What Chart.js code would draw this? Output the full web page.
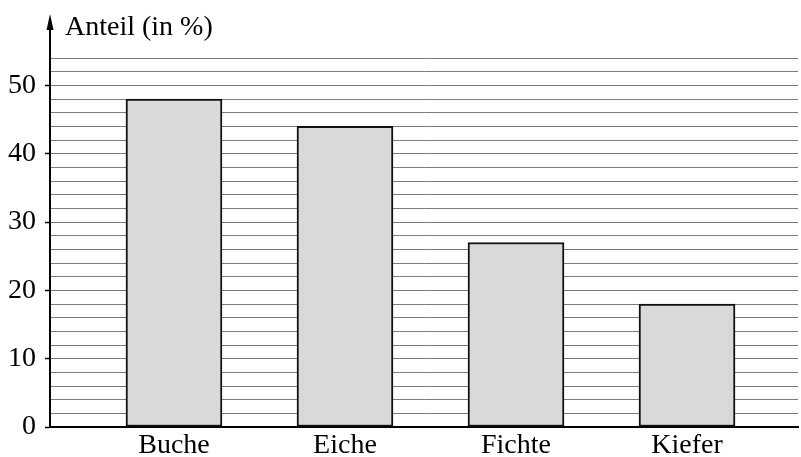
<!DOCTYPE html>
<html>
<head>
<meta charset="utf-8">
<script src="https://cdn.jsdelivr.net/npm/chart.js@4/dist/chart.umd.min.js"></script>
<style>
    html, body { margin: 0; padding: 0; background: #fff; }
    #wrap { width: 801px; height: 457px; }
</style>
</head>
<body>
<div id="wrap"><canvas id="anteilChart"></canvas></div>
<script>
// Chart data
const categories = ['Buche', 'Eiche', 'Fichte', 'Kiefer'];
const anteil = [48, 44, 27, 18];
const labelledTicks = [0, 10, 20, 30, 40, 50];
const yMax = 54;

const serif = '"Liberation Serif", "Times New Roman", serif';

// Arrow on the y axis and the axis title
const axisArrow = {
    id: 'axisArrow',
    afterDraw(chart) {
        const ctx = chart.ctx;
        const area = chart.chartArea;
        const x = area.left;
        ctx.save();
        ctx.strokeStyle = '#000';
        ctx.lineWidth = 2;
        ctx.beginPath();
        ctx.moveTo(x, area.top);
        ctx.lineTo(x, 26);
        ctx.stroke();
        ctx.fillStyle = '#000';
        ctx.beginPath();
        ctx.moveTo(x, 14);
        ctx.lineTo(x - 3.5, 30);
        ctx.lineTo(x + 3.5, 30);
        ctx.closePath();
        ctx.fill();
        ctx.font = '28px ' + serif;
        ctx.textBaseline = 'alphabetic';
        ctx.fillText('Anteil (in %)', 65, 35);
        ctx.restore();
    }
};

function init() {
    const ctx = document.getElementById('anteilChart');
    new Chart(ctx, {
        type: 'bar',
        data: {
            datasets: [{
                data: anteil.map((v, i) => ({ x: i + 1, y: v })),
                backgroundColor: '#d9d9d9',
                borderColor: '#111',
                borderWidth: 2,
                borderSkipped: false,
                barThickness: 96
            }]
        },
        options: {
            responsive: true,
            maintainAspectRatio: false,
            animation: false,
            layout: { padding: { top: 58, right: 3, bottom: 0, left: 0 } },
            plugins: {
                legend: { display: false },
                tooltip: { enabled: false }
            },
            scales: {
                x: {
                    type: 'linear',
                    min: 0.275,
                    max: 4.649,
                    offset: false,
                    afterBuildTicks: (scale) => {
                        scale.ticks = categories.map((c, i) => ({ value: i + 1 }));
                    },
                    afterFit: (scale) => { scale.height = 30; },
                    ticks: {
                        callback: (v) => categories[v - 1] || '',
                        color: '#000',
                        font: { family: serif, size: 28 },
                        padding: -6,
                        maxRotation: 0
                    },
                    grid: { display: false, offset: false },
                    border: { color: '#000', width: 2 }
                },
                y: {
                    min: 0,
                    max: yMax,
                    z: 1,
                    afterFit: (scale) => { scale.width = 50; },
                    ticks: {
                        stepSize: 2,
                        autoSkip: false,
                        callback: (v) => labelledTicks.includes(v) ? String(v) : '',
                        color: '#000',
                        font: { family: serif, size: 28 },
                        padding: 9
                    },
                    grid: {
                        color: (c) => c.tick && c.tick.value === 0 ? 'rgba(0,0,0,0)' : '#7a7a7a',
                        lineWidth: 1,
                        tickLength: 5,
                        tickColor: (c) => c.tick && labelledTicks.includes(c.tick.value) ? '#000' : 'rgba(0,0,0,0)',
                        tickWidth: 1.5,
                        tickBorderDash: [],
                        borderDash: [1, 1]
                    },
                    border: { color: '#000', width: 2, dash: [] }
                }
            }
        },
        plugins: [axisArrow]
    });
}

document.addEventListener('DOMContentLoaded', init);
</script>
</body>
</html>
